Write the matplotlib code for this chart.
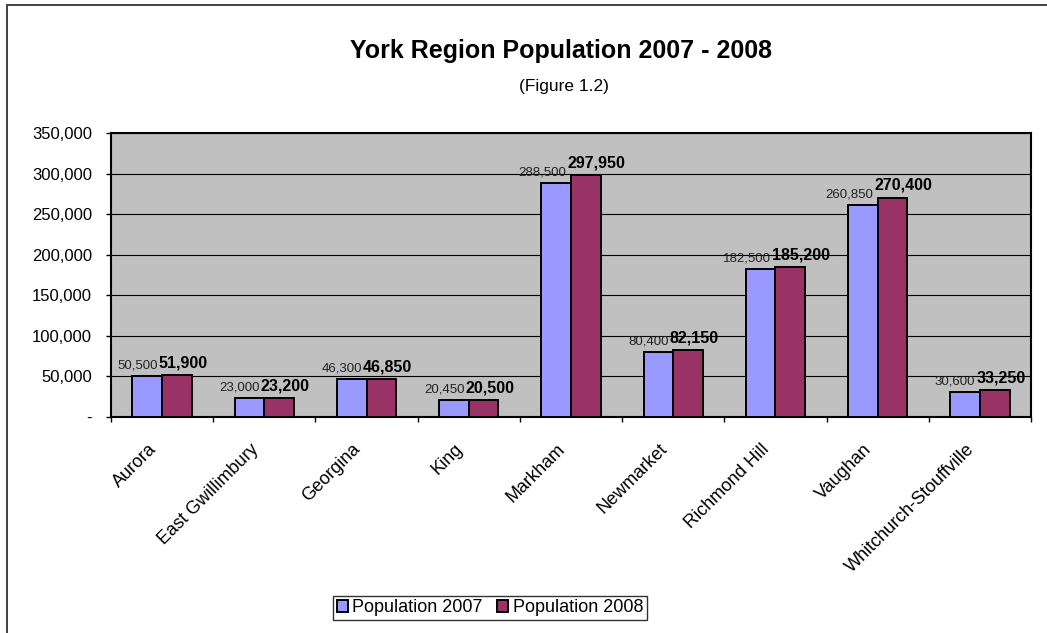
import numpy as np
import matplotlib
matplotlib.use("Agg")
import matplotlib.pyplot as plt
from matplotlib.patches import Rectangle
from matplotlib.transforms import ScaledTranslation
from matplotlib.ticker import FuncFormatter, MultipleLocator, FixedLocator, NullFormatter

plt.rcParams['font.family'] = ['Liberation Sans', 'DejaVu Sans']

# York Region municipalities and their populations
towns = ['Aurora', 'East Gwillimbury', 'Georgina', 'King', 'Markham',
         'Newmarket', 'Richmond Hill', 'Vaughan', 'Whitchurch-Stouffville']
pop_2007 = [50500, 23000, 46300, 20450, 288500, 80400, 182500, 260850, 30600]
pop_2008 = [51900, 23200, 46850, 20500, 297950, 82150, 185200, 270400, 33250]

blue = '#9999FF'
plum = '#993366'

fig = plt.figure(figsize=(10.47, 6.33), dpi=100)
ax = fig.add_axes([111/1047, 1 - 417/633, 920/1047, 284/633])

# outer chart border (top and left edges show, the rest runs off the page)
fig.patches.append(Rectangle((7/1047, -0.1), 1.2, 1 - 5/633 + 0.1,
                             transform=fig.transFigure, fill=False,
                             edgecolor='#333333', linewidth=1.3))

x = np.arange(len(towns))
w = 0.29
ax.bar(x - w/2, pop_2007, w, color=blue, edgecolor='black', linewidth=1.4,
       label='Population 2007', zorder=3)
ax.bar(x + w/2, pop_2008, w, color=plum, edgecolor='black', linewidth=1.4,
       label='Population 2008', zorder=3)

for xi, a, b in zip(x, pop_2007, pop_2008):
    ax.annotate(f'{a:,}', (xi, a), xytext=(-3.2, 5.5), textcoords='offset points',
                ha='right', va='baseline', fontsize=9.5, color='#222222')
    ax.annotate(f'{b:,}', (xi, b), xytext=(-2.5, 5.5), textcoords='offset points',
                ha='left', va='baseline', fontsize=11.5, fontweight='bold')

ax.set_facecolor('#C0C0C0')
ax.set_xlim(-0.5, len(towns) - 0.5)
ax.set_ylim(0, 350000)
ax.yaxis.set_major_locator(MultipleLocator(50000))
ax.yaxis.set_major_formatter(FuncFormatter(lambda v, p: '-' if v == 0 else f'{int(v):,}'))
ax.grid(axis='y', color='black', linewidth=0.8, zorder=0)
ax.set_axisbelow(True)

# category ticks sit between the groups
ax.xaxis.set_major_locator(FixedLocator(np.arange(-0.5, len(towns), 1.0)))
ax.xaxis.set_major_formatter(NullFormatter())
ax.tick_params(axis='x', which='major', length=3.6, width=1, direction='out')
ax.tick_params(axis='y', length=3.6, width=1, labelsize=12, pad=10)

# slanted town names, hung just left of each group centre
lab_tr = ax.get_xaxis_transform() + ScaledTranslation(-10.5/72, -17/72, fig.dpi_scale_trans)
for xi, name in zip(x, towns):
    ax.text(xi, 0, name, transform=lab_tr, rotation=45, rotation_mode='anchor',
            ha='right', va='top', fontsize=13, clip_on=False)

for s in ax.spines.values():
    s.set_linewidth(1.5)
    s.set_color('black')

fig.text(0.536, 1 - 51/633, 'York Region Population 2007 - 2008',
         ha='center', va='center', fontsize=18, fontweight='bold')
fig.text(0.539, 1 - 87/633, '(Figure 1.2)', ha='center', va='center', fontsize=12.5)

leg = fig.legend(loc='center', bbox_to_anchor=(490/1047, 1 - 608/633), ncol=2,
                 fontsize=13, frameon=True, fancybox=False, borderpad=0.2,
                 handlelength=0.6, handleheight=0.6, handletextpad=0.25,
                 columnspacing=0.8, borderaxespad=0)
leg.get_frame().set_edgecolor('black')
leg.get_frame().set_linewidth(1.0)

fig.savefig('out.png', dpi=100)
